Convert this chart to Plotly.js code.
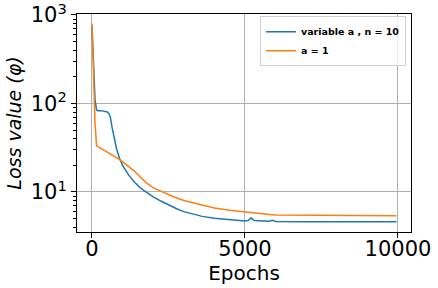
<!DOCTYPE html>
<html><head><meta charset="utf-8">
<script src="https://cdn.plot.ly/plotly-3.0.1.min.js"></script>
<style>body{margin:0;background:#fff}#chart{width:438px;height:288px}</style>
</head><body><div id="chart"></div>
<script>
const seriesNames = ["variable a , n = 10", "a = 1"];
const blueEpochs = [0, 50, 100, 150, 200, 300, 400, 500, 550, 600, 650, 700, 800, 900, 1000, 1200, 1400, 1600, 1800, 2000, 2250, 2500, 2750, 3000, 3300, 3600, 4000, 4500, 5000, 5100, 5200, 5300, 5500, 5800, 5900, 6000, 7000, 8000, 9000, 9950];
const blueLoss = [750, 300, 110, 84, 83, 83, 82, 80, 77, 70, 55, 44, 31, 24, 20, 15.5, 12.8, 11, 9.8, 8.8, 7.9, 7.1, 6.5, 6.0, 5.6, 5.3, 5.05, 4.85, 4.7, 4.75, 5.1, 4.75, 4.7, 4.68, 4.8, 4.65, 4.62, 4.6, 4.6, 4.6];
const orangeEpochs = [0, 50, 100, 150, 200, 400, 600, 800, 1000, 1200, 1400, 1600, 1800, 2000, 2300, 2600, 3000, 3500, 4000, 4500, 5000, 5500, 5800, 6000, 7000, 8000, 9000, 9950];
const orangeLoss = [800, 200, 60, 33, 32.5, 29.5, 27, 24.5, 22, 19.5, 17, 14.5, 12.5, 11.2, 10, 9, 8, 7.2, 6.6, 6.2, 5.9, 5.65, 5.55, 5.5, 5.45, 5.42, 5.4, 5.4];
const xTicks = [0, 5000, 10000];
const yTicks = [10, 100, 1000];
const yTickText = ["10<sup>1</sup>", "10<sup>2</sup>", "10<sup>3</sup>"];

const traces = [
  {x: blueEpochs, y: blueLoss, name: seriesNames[0], mode: "lines", line: {color: "#1f77b4", width: 1.5}},
  {x: orangeEpochs, y: orangeLoss, name: seriesNames[1], mode: "lines", line: {color: "#ff7f0e", width: 1.5}}
];
const axisCommon = {showline: true, mirror: true, linecolor: "#000", linewidth: 1, ticks: "outside", ticklen: 5, tickcolor: "#000", showgrid: true, gridcolor: "#b0b0b0", gridwidth: 1, zeroline: false, ticklabeloverflow: "allow", tickfont: {family: "DejaVu Sans", size: 21, color: "#000"}};
const layout = {
  width: 438, height: 288,
  margin: {l: 77, r: 27, t: 14, b: 56},
  paper_bgcolor: "#fff", plot_bgcolor: "#fff",
  font: {family: "DejaVu Sans", color: "#000"},
  xaxis: Object.assign({}, axisCommon, {range: [-490, 10425], tickvals: xTicks, ticktext: xTicks.map(String), ticklabelstandoff: -7, title: {text: "Epochs", font: {family: "DejaVu Sans", size: 20}, standoff: 0}}),
  yaxis: Object.assign({}, axisCommon, {type: "log", range: [Math.log10(3.53), 3.011], tickvals: yTicks, ticktext: yTickText, title: {text: "<i>Loss value (φ)</i>", font: {family: "DejaVu Sans", size: 19}, standoff: 4},
    minor: {ticks: "outside", ticklen: 3, tickcolor: "#000", showgrid: false, dtick: "D1"}}),
  legend: {x: 0.985, xanchor: "right", y: 0.99, yanchor: "top", bgcolor: "rgba(255,255,255,0.8)", bordercolor: "#d0d0d0", borderwidth: 1, font: {family: "DejaVu Sans", size: 9.5, weight: "bold", color: "#000"}, tracegroupgap: 0, itemwidth: 30},
  showlegend: true
};
Plotly.newPlot("chart", traces, layout, {staticPlot: true, displayModeBar: false});
</script></body></html>
